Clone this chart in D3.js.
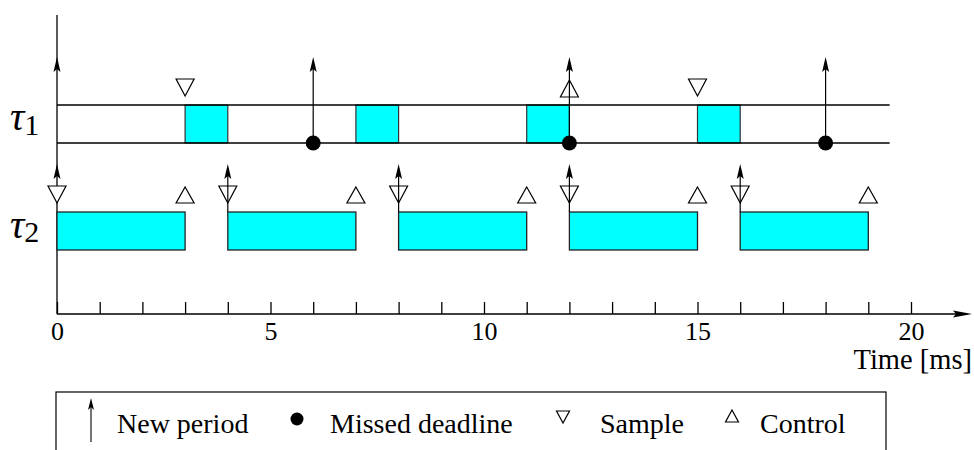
<!DOCTYPE html>
<html>
<head>
<meta charset="utf-8"/>
<script src="https://d3js.org/d3.v7.min.js"></script>
<style>
body { margin: 0; background: #fff; overflow: hidden; }
text { font-family: "Liberation Serif", "DejaVu Serif", serif; fill: #000; }
.axis path, .axis line { stroke: #000; stroke-width: 1.3; }
</style>
</head>
<body>
<svg id="svg" width="974" height="450"></svg>
<script>

// task 1 (tau1) and task 2 (tau2) schedules, in ms
var tau1Exec = [[3, 4], [7, 8], [11, 12], [15, 16]];
var tau1Periods = [0, 6, 12, 18];
var tau1Missed = [6, 12, 18];
var tau1Sample = [3, 15];
var tau1Control = [12];

var tau2Exec = [[0, 3], [4, 7], [8, 11], [12, 15], [16, 19]];
var tau2Periods = [0, 4, 8, 12, 16];
var tau2Sample = [0, 4, 8, 12, 16];
var tau2Control = [3, 7, 11, 15, 19];

var tickValues = d3.range(0, 21);
var tickLabels = [0, 5, 10, 15, 20];
var tau1End = 19.5;

var legendItems = ["New period", "Missed deadline", "Sample", "Control"];

var svg = d3.select("#svg");
var x = d3.scaleLinear().domain([0, 20]).range([57, 911]);

var axisY = 314;
var row1 = { top: 105, bottom: 143 };
var row2 = { top: 212, bottom: 250 };

// up-pointing arrowhead with tip at (cx, ty)
function arrowHead(g, cx, ty, len, half) {
  g.append("path")
    .attr("d", "M" + cx + "," + ty + "L" + (cx + half) + "," + (ty + len) +
      "L" + cx + "," + (ty + len - 3) + "L" + (cx - half) + "," + (ty + len) + "Z")
    .attr("fill", "#000");
}
function tri(g, cx, yTop, w, h, down) {
  var d = down
    ? "M" + (cx - w / 2) + "," + yTop + "L" + (cx + w / 2) + "," + yTop + "L" + cx + "," + (yTop + h) + "Z"
    : "M" + cx + "," + yTop + "L" + (cx + w / 2) + "," + (yTop + h) + "L" + (cx - w / 2) + "," + (yTop + h) + "Z";
  g.append("path").attr("d", d).attr("fill", "#fff").attr("stroke", "#000").attr("stroke-width", 1.2);
}

// vertical axis
svg.append("line").attr("x1", x(0)).attr("x2", x(0)).attr("y1", 15).attr("y2", axisY)
  .attr("stroke", "#000").attr("stroke-width", 1.3);

// x axis
var xAxisG = svg.append("g").attr("class", "axis")
  .attr("transform", "translate(0," + axisY + ")")
  .call(d3.axisBottom(x).tickValues(tickValues).tickSizeInner(-12).tickSizeOuter(0).tickPadding(8)
    .tickFormat(function(d) { return tickLabels.indexOf(d) >= 0 ? d : ""; }));
xAxisG.select(".domain").remove();
xAxisG.selectAll("text").style("font-size", "26px").style("font-family", "Liberation Serif").attr("fill", "#000");
svg.append("line").attr("x1", x(0)).attr("x2", 960).attr("y1", axisY).attr("y2", axisY)
  .attr("stroke", "#000").attr("stroke-width", 1.3);
svg.append("path")
  .attr("d", "M972," + axisY + "L953," + (axisY - 3.5) + "L956," + axisY + "L953," + (axisY + 3.5) + "Z")
  .attr("fill", "#000");
svg.append("text").attr("x", 972).attr("y", 369).attr("text-anchor", "end")
  .style("font-size", "28.5px").text("Time [ms]");

// tau1 row
var g1 = svg.append("g");
g1.selectAll("rect.exec").data(tau1Exec).enter().append("rect")
  .attr("class", "exec")
  .attr("x", function(d) { return x(d[0]); })
  .attr("y", row1.top)
  .attr("width", function(d) { return x(d[1]) - x(d[0]); })
  .attr("height", row1.bottom - row1.top)
  .attr("fill", "#00ffff").attr("stroke", "#333").attr("stroke-width", 1.2);
[row1.top, row1.bottom].forEach(function(yy) {
  g1.append("line").attr("x1", x(0)).attr("x2", x(tau1End)).attr("y1", yy).attr("y2", yy)
    .attr("stroke", "#000").attr("stroke-width", 1.5);
});
tau1Sample.forEach(function(t) { tri(g1, x(t), 79, 18, 17, true); });
tau1Control.forEach(function(t) { tri(g1, x(t), 80, 18, 17, false); });
tau1Periods.forEach(function(t) {
  if (t > 0) {
    g1.append("line").attr("x1", x(t)).attr("x2", x(t)).attr("y1", row1.bottom).attr("y2", 62)
      .attr("stroke", "#000").attr("stroke-width", 1.2);
  }
  arrowHead(g1, x(t), 57, 15, 3.5);
});
g1.selectAll("circle").data(tau1Missed).enter().append("circle")
  .attr("cx", function(d) { return x(d); }).attr("cy", row1.bottom).attr("r", 7.5).attr("fill", "#000");

// tau2 row
var g2 = svg.append("g");
g2.selectAll("rect").data(tau2Exec).enter().append("rect")
  .attr("x", function(d) { return x(d[0]); })
  .attr("y", row2.top)
  .attr("width", function(d) { return x(d[1]) - x(d[0]); })
  .attr("height", row2.bottom - row2.top)
  .attr("fill", "#00ffff").attr("stroke", "#222").attr("stroke-width", 1.3);
tau2Sample.forEach(function(t) { tri(g2, x(t), 186, 18, 17, true); });
tau2Control.forEach(function(t) { tri(g2, x(t), 187, 18, 16, false); });
tau2Periods.forEach(function(t) {
  if (t > 0) {
    g2.append("line").attr("x1", x(t)).attr("x2", x(t)).attr("y1", row2.top).attr("y2", 168)
      .attr("stroke", "#000").attr("stroke-width", 1.2);
  }
  arrowHead(g2, x(t), 164, 15, 3.5);
});

// task labels
function tauLabel(yBase, sub, subBase) {
  var t = svg.append("text").attr("x", 10).attr("y", yBase);
  t.append("tspan").style("font-size", "40px").style("font-style", "italic").text("τ");
  t.append("tspan").attr("y", subBase).style("font-size", "30px").text(sub);
}
tauLabel(130, "1", 135);
tauLabel(238, "2", 242);

// legend
var lg = svg.append("g");
lg.append("rect").attr("x", 56).attr("y", 392).attr("width", 830).attr("height", 80)
  .attr("fill", "none").attr("stroke", "#000").attr("stroke-width", 1.2);
lg.append("line").attr("x1", 91).attr("x2", 91).attr("y1", 404).attr("y2", 442)
  .attr("stroke", "#000").attr("stroke-width", 1.1);
arrowHead(lg, 91, 398, 12, 3);
lg.append("circle").attr("cx", 297).attr("cy", 419).attr("r", 6.5).attr("fill", "#000");
tri(lg, 563, 411, 13, 12, true);
tri(lg, 732, 410, 13, 12, false);
var legendX = [117, 330, 600, 760];
lg.selectAll("text").data(legendItems).enter().append("text")
  .attr("x", function(d, i) { return legendX[i]; })
  .attr("y", 433)
  .style("font-size", "28px")
  .text(function(d) { return d; });

</script>
</body>
</html>
